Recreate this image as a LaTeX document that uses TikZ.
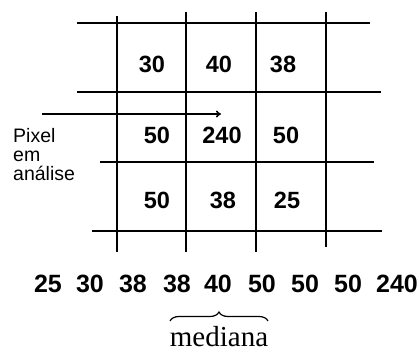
\documentclass[tikz,border=0pt]{standalone}
\usepackage{fontspec}
\setmainfont{Liberation Serif}
\newfontfamily\arialfont{Liberation Sans}
\usetikzlibrary{arrows.meta,decorations.pathreplacing}

\begin{document}
\begin{tikzpicture}[
  x=1pt,y=-1pt,
  gline/.style={line width=2.6pt,black},
  cell/.style={font=\arialfont\bfseries\fontsize{23.5}{27}\selectfont,anchor=base,inner sep=0pt},
  sval/.style={font=\arialfont\bfseries\fontsize{25}{29}\selectfont,anchor=base,inner sep=0pt},
  lbl/.style={font=\arialfont\fontsize{19.5}{19}\selectfont,align=left,anchor=base west,inner sep=0pt}
]
\useasboundingbox (0,0) rectangle (420,351);
% grid lines
\draw[gline] (77,23)  -- (370,23);
\draw[gline] (77,92)  -- (381,92);
\draw[gline] (100,162) -- (374,162);
\draw[gline] (92,231) -- (382,231);
\draw[gline] (117,16) -- (117,252);
\draw[gline] (186,12) -- (186,252);
\draw[gline] (256,12) -- (256,252);
\draw[gline] (326,12) -- (326,247);
% neighbourhood values
\node[cell] (c11) at (152,72)  {30};
\node[cell] (c12) at (219,72)  {40};
\node[cell] (c13) at (283,72)  {38};
\node[cell] (c21) at (157,143) {50};
\node[cell] (c22) at (222,143) {240};
\node[cell] (c23) at (286,143) {50};
\node[cell] (c31) at (157,208) {50};
\node[cell] (c32) at (223,208) {38};
\node[cell] (c33) at (287,208) {25};
% pointer to the pixel
\node[lbl] (pix) at (13,180) {Pixel\\em\\análise};
\coordinate (pstart) at (42,114);
\coordinate (pend) at (221,114);
\draw[line width=1.6pt,-{To[length=5pt,width=7pt]}] (pstart) -- (pend);
% sorted values
\node[sval] (s1) at (48,292)  {25};
\node[sval] (s2) at (90,292)  {30};
\node[sval] (s3) at (133,292) {38};
\node[sval] (s4) at (177,292) {38};
\node[sval] (s5) at (218,292) {40};
\node[sval] (s6) at (262,292) {50};
\node[sval] (s7) at (305,292) {50};
\node[sval] (s8) at (348,292) {50};
\node[sval] (s9) at (397,292) {240};
% median brace
\coordinate (bl) at (170,321);
\coordinate (br) at (268,321);
\draw[line width=1.2pt,decorate,decoration={brace,amplitude=9pt}] (bl) -- (br);
\node[font=\fontsize{29}{29}\selectfont,anchor=base,inner sep=0pt] (med) at (219,346) {mediana};
\end{tikzpicture}
\end{document}
